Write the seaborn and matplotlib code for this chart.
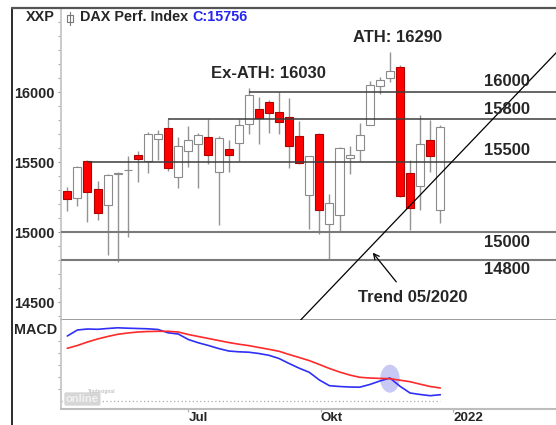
import numpy as np
import pandas as pd
import matplotlib
matplotlib.use("Agg")
import matplotlib.pyplot as plt
import matplotlib.dates as mdates
from matplotlib.patches import Ellipse, Rectangle
from matplotlib.lines import Line2D
from matplotlib.ticker import MultipleLocator
import seaborn as sns

wochen = pd.date_range("2021-04-08", periods=38, freq="7D")
eroeffnung = [15297, 15247, 15512, 15307, 15194, 15420, 15445, 15555, 15507, 15668,
              15747, 15398, 15579, 15634, 15682, 15430, 15596, 15639, 15778, 15880,
              15932, 15863, 15824, 15687, 15266, 15704, 15062, 15122, 15531, 15591,
              15771, 16043, 16103, 16180, 15427, 15331, 15663, 15158]
hoch = [15322, 15478, 15515, 15367, 15415, 15430, 15548, 15579, 15716, 15735,
        15812, 15682, 15759, 15711, 15812, 15687, 15663, 15812, 16030, 15971,
        15945, 16004, 15957, 15795, 15543, 15711, 15278, 15610, 15620, 15784,
        16079, 16108, 16290, 16197, 15519, 15836, 15800, 15771]
tief = [15151, 15189, 15074, 15091, 14840, 14790, 14965, 15362, 15423, 15519,
        15442, 15319, 15470, 15315, 15488, 15050, 15434, 15507, 15706, 15632,
        15711, 15706, 15463, 15490, 15026, 14990, 14810, 15014, 15416, 15507,
        15771, 15988, 16072, 15254, 15019, 15158, 15434, 15066]
schluss = [15242, 15466, 15286, 15141, 15411, 15428, 15449, 15526, 15706, 15706,
           15459, 15615, 15658, 15694, 15550, 15675, 15555, 15766, 15980, 15820,
           15856, 15788, 15620, 15499, 15543, 15158, 15211, 15603, 15553, 15694,
           16055, 16091, 16151, 15261, 15177, 15632, 15543, 15756]

# MACD (blau) und Signallinie (rot), willkuerliche Einheiten
macd = [650, 710, 720, 717, 725, 732, 728, 725, 722, 715,
        682, 670, 615, 582, 555, 525, 500, 492, 488, 475,
        457, 425, 375, 328, 287, 210, 153, 145, 140, 138,
        165, 200, 230, 147, 80, 65, 53, 63]
signal = [527, 555, 590, 620, 645, 667, 680, 690, 695, 697,
          697, 690, 665, 645, 625, 605, 585, 568, 554, 535,
          517, 497, 465, 435, 404, 365, 325, 290, 260, 237,
          230, 226, 223, 208, 193, 168, 145, 130]

# Horizontale Marken: Wert, Beschriftung, Startkerze (None = ganze Breite)
niveaus = [16000, 15810, 15500, 15000, 14800]
niveau_text = ["16000", "15800", "15500", "15000", "14800"]
niveau_start = [18, 10, 2, None, None]

# Trendlinie seit 05/2020
trend_datum = [pd.Timestamp("2021-09-17"), pd.Timestamp("2022-03-14")]
trend_wert = [14375, 16290]

# Kreuzung markiert
kreuz_datum = wochen[32]
kreuz_wert = 223

x_ticks = [pd.Timestamp("2021-07-01"), pd.Timestamp("2021-10-01"), pd.Timestamp("2022-01-01")]
x_labels = ["Jul", "Okt", "2022"]

sns.set_theme(style="white")
plt.rcParams["font.family"] = ["Liberation Sans", "DejaVu Sans"]
plt.rcParams["font.weight"] = "bold"

W, H = 556, 425
def fx(px):
    return px / W
def fy(py):
    return 1 - py / H

fig = plt.figure(figsize=(W / 100, H / 100), dpi=100)
fig.patch.set_facecolor("white")
ax = fig.add_axes([fx(60.7), fy(320), 1 - fx(60.7), fy(8) - fy(320)])
ax2 = fig.add_axes([fx(60.7), fy(409), 1 - fx(60.7), fy(320) - fy(409)], sharex=ax)

x_links = pd.Timestamp("2021-04-03 10:00")
x_rechts = pd.Timestamp("2022-03-13 07:00")

df = pd.DataFrame({"datum": wochen, "open": eroeffnung, "high": hoch,
                   "low": tief, "close": schluss})
steigt = df["close"] >= df["open"]
unten = np.minimum(df["open"], df["close"])
hoehe = np.maximum(np.abs(df["close"] - df["open"]), 4)

ax.vlines(df["datum"], df["low"], df["high"], color="#939393", lw=1.0, zorder=1)
ax.bar(df["datum"], hoehe, bottom=unten, width=5.6,
       color=np.where(steigt, "white", "#ff0000"),
       edgecolor=np.where(steigt, "#8a8a8a", "#b00000"), lw=0.8, zorder=2)

for wert, start in zip(niveaus, niveau_start):
    if start is None:
        ax.hlines(wert, x_links, x_rechts, color="#7a7a7a", lw=1.5, zorder=3)
    else:
        ax.hlines(wert, wochen[start], x_rechts, color="#3c3c3c", lw=1.1, zorder=3)

sns.lineplot(x=trend_datum, y=trend_wert, ax=ax, color="black", lw=0.9, zorder=4)

ax.set_xlim(x_links, x_rechts)
ax.set_ylim(14375, 16603)
ax.set_yticks([14500, 15000, 15500, 16000])
ax.yaxis.set_minor_locator(MultipleLocator(100))
ax.tick_params(axis="y", which="major", direction="out", length=2.5, width=0.8,
               color="#999999", labelsize=10.4, pad=2, left=True)
ax.tick_params(axis="y", which="minor", direction="out", length=2, width=0.8,
               color="#aaaaaa", left=True)
ax.tick_params(axis="x", bottom=False, labelbottom=False)
for lbl in ax.get_yticklabels():
    lbl.set_fontweight("bold")
ax.set_xlabel("")
ax.set_ylabel("")
for s in ["top", "right"]:
    ax.spines[s].set_visible(False)
ax.spines["left"].set_color("#c4c4c4")
ax.spines["bottom"].set_color("#8c8c8c")
ax.spines["bottom"].set_linewidth(1.2)

# MACD Panel
ax2.add_patch(Ellipse((mdates.date2num(kreuz_datum), kreuz_wert), width=13.5, height=280,
                      facecolor="#c9c9f6", edgecolor="none", zorder=1))
ax2.hlines(0, x_links, wochen[-1], color="#aaaaaa", lw=0.9, linestyles=(0, (1, 2)), zorder=1)
sns.lineplot(x=wochen, y=signal, ax=ax2, color="#ff2a2a", lw=1.2, zorder=3)
sns.lineplot(x=wochen, y=macd, ax=ax2, color="#2f2ff5", lw=1.2, zorder=2)
ax2.set_ylim(-80, 810)
ax2.set_yticks([120, 240, 360, 480, 600])
ax2.tick_params(axis="y", direction="out", length=2, width=0.8, color="#aaaaaa",
                labelleft=False, left=True)
ax2.set_xticks(x_ticks)
ax2.set_xticklabels(x_labels)
ax2.tick_params(axis="x", direction="out", length=2, width=0.8, color="#aaaaaa",
                labelsize=9.6, pad=0, bottom=True)
for lbl in ax2.get_xticklabels():
    lbl.set_horizontalalignment("left")
    lbl.set_fontweight("bold")
ax2.set_xlabel("")
ax2.set_ylabel("")
for s in ["top", "right"]:
    ax2.spines[s].set_visible(False)
ax2.spines["left"].set_color("#c4c4c4")
ax2.spines["bottom"].set_color("#bdbdbd")
ax2.spines["bottom"].set_linewidth(1.5)

# Rahmen
fig.add_artist(Line2D([fx(12.3), fx(12.3)], [fy(8), 0], color="#1a1a1a", lw=1.3))
fig.add_artist(Line2D([fx(12.3), 1], [fy(8), fy(8)], color="#555555", lw=1.6))

# Kopfzeile
fig.text(fx(26), fy(17), "XXP", fontsize=10.4, fontweight="bold", va="center", ha="left")
fig.add_artist(Line2D([fx(69.7), fx(69.7)], [fy(11.5), fy(24.5)], color="#777777", lw=0.8))
fig.add_artist(Rectangle((fx(66.7), fy(21.5)), fx(6), fy(15) - fy(21.5), facecolor="white",
                         edgecolor="#777777", lw=0.8, transform=fig.transFigure))
fig.text(fx(80), fy(17), "DAX Perf. Index", fontsize=10.4, fontweight="bold",
         va="center", ha="left")
fig.text(fx(192.7), fy(17), "C:15756", fontsize=10.4, fontweight="bold", color="#2525f0",
         va="center", ha="left")

# Beschriftungen im Chart
fig.text(fx(397.5), fy(37), "ATH: 16290", fontsize=12, fontweight="bold", ha="center", va="center")
fig.text(fx(268.5), fy(73), "Ex-ATH: 16030", fontsize=12, fontweight="bold", ha="center", va="center")
for txt, py in zip(niveau_text, [81, 109, 150, 242, 270]):
    fig.text(fx(484), fy(py), txt, fontsize=12, fontweight="bold", ha="left", va="center")
fig.text(fx(413), fy(298), "Trend 05/2020", fontsize=12, fontweight="bold", ha="center", va="center")
ax.annotate("", xy=(fx(371), fy(250.5)), xycoords="figure fraction",
            xytext=(fx(398), fy(284)), textcoords="figure fraction",
            arrowprops=dict(arrowstyle="->", color="black", lw=0.9, mutation_scale=10))

fig.text(fx(14), fy(330), "MACD", fontsize=10.4, fontweight="bold", ha="left", va="center")

# Wasserzeichen
fig.text(fx(66), fy(399), "online", fontsize=8, fontweight="bold", color="#f2f2f2",
         ha="left", va="center",
         bbox=dict(boxstyle="round,pad=0.15", facecolor="#d6d6d6", edgecolor="none"))
fig.text(fx(88), fy(391), "Tradesignal", fontsize=3.5, color="#c4c4c4", ha="left", va="center")

fig.savefig("out.png", dpi=100, facecolor="white")
